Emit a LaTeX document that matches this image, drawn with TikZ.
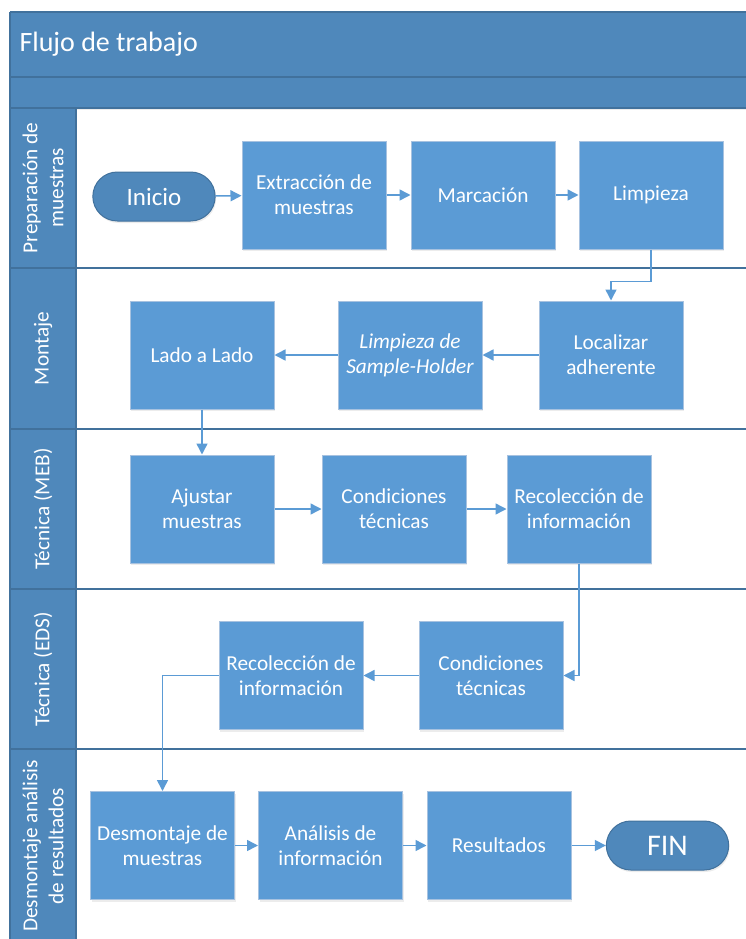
\documentclass[tikz,border=0pt]{standalone}
\usepackage{fontspec}
\setmainfont{Carlito}
\usetikzlibrary{arrows.meta,shapes.misc,shadows}

\definecolor{boxblue}{HTML}{5B9BD5}
\definecolor{boxedge}{HTML}{A7C2E0}
\definecolor{headblue}{HTML}{4F88BB}
\definecolor{lineblue}{HTML}{41719C}

\begin{document}
\begin{tikzpicture}
        [x=1pt, y=-1pt,
        box/.style={rectangle, draw=boxedge, fill=boxblue, line width=1pt, minimum width=144pt, minimum height=108pt,
            align=center, text=white, font=\fontsize{21.3}{25}\selectfont,
            drop shadow={opacity=0.15, shadow xshift=1pt, shadow yshift=-2pt}},
        italic/.style={font=\fontsize{21.3}{25}\selectfont\itshape},
        term/.style={rounded rectangle, draw=lineblue, fill=headblue, line width=1pt, minimum width=129pt, minimum height=49pt,
            text=white, drop shadow={opacity=0.15, shadow xshift=1pt, shadow yshift=-2pt}},
        lanehead/.style={rectangle, draw=lineblue, fill=headblue, line width=1.2pt, rotate=90, minimum height=66pt,
            align=center, text=white, font=\fontsize{21.3}{26}\selectfont},
        lane/.style={draw=lineblue, line width=1.5pt},
        flow/.style={boxblue, line width=1.5pt, -{Triangle[length=11pt,width=11pt]}}]

        \useasboundingbox (0,0) rectangle (746,939);
        \clip (0,0) rectangle (746,939);

        % title bar
        \fill[headblue, drop shadow={opacity=0.15, shadow yshift=-2pt}] (10,12) rectangle (760,108);
        \draw[lane] (10,12) -- (760,12);
        \draw[lane] (10,77) -- (760,77);
        \draw[lane] (10,12) -- (10,108);
        \node[anchor=west, text=white, font=\fontsize{28}{34}\selectfont] (title) at (16,44) {Flujo de trabajo};

        % lanes
        \draw[lane] (10,108) rectangle (760,268);
        \draw[lane] (10,268) rectangle (760,429);
        \draw[lane] (10,429) rectangle (760,589);
        \draw[lane] (10,589) rectangle (760,749);
        \draw[lane] (10,749) rectangle (760,960);

        % lane headers
        \node[lanehead, minimum width=160pt] (h1) at (43,188) {Preparación de\\muestras};
        \node[lanehead, minimum width=161pt] (h2) at (43,348.5) {Montaje};
        \node[lanehead, minimum width=160pt] (h3) at (43,509) {Técnica (MEB)};
        \node[lanehead, minimum width=160pt] (h4) at (43,669) {Técnica (EDS)};
        \node[lanehead, minimum width=194pt] (h5) at (43,846) {Desmontaje análisis\\de resultados};

        % preparación
        \node[term, font=\fontsize{25}{30}\selectfont] (ini) at (154,196.5) {Inicio};
        \node[box] (ext) at (314,195) {Extracción de\\muestras};
        \node[box] (mar) at (483,195) {Marcación};
        \node[box] (lim) at (651,195) {Limpieza};

        % montaje
        \node[box] (loc) at (611,355) {Localizar\\adherente};
        \node[box, italic] (lsh) at (410,355) {Limpieza de\\Sample-Holder};
        \node[box] (lado) at (202,355) {Lado a Lado};

        % MEB
        \node[box] (aju) at (202,509) {Ajustar\\muestras};
        \node[box] (cmeb) at (394,509) {Condiciones\\técnicas};
        \node[box] (rmeb) at (579,509) {Recolección de\\información};

        % EDS
        \node[box] (ceds) at (491,675.5) {Condiciones\\técnicas};
        \node[box] (reds) at (291,675.5) {Recolección de\\información};

        % desmontaje
        \node[box] (des) at (162.5,845.5) {Desmontaje de\\muestras};
        \node[box] (ana) at (330.5,845.5) {Análisis de\\información};
        \node[box] (res) at (499,845.5) {Resultados};
        \node[term, font=\fontsize{30}{36}\selectfont] (fin) at (667.5,845.5) {FIN};

        % flow
        \draw[flow] (ini) -- (ext);
        \draw[flow] (ext) -- (mar);
        \draw[flow] (mar) -- (lim);
        \draw[flow] (lim.south) -- ++(0,32) -| (loc.north);
        \draw[flow] (loc) -- (lsh);
        \draw[flow] (lsh) -- (lado);
        \draw[flow] (lado) -- (aju);
        \draw[flow] (aju) -- (cmeb);
        \draw[flow] (cmeb) -- (rmeb);
        \draw[flow] (rmeb.south) |- (ceds.east);
        \draw[flow] (ceds) -- (reds);
        \draw[flow] (reds.west) -| (des.north);
        \draw[flow] (des) -- (ana);
        \draw[flow] (ana) -- (res);
        \draw[flow] (res) -- (fin);

    \end{tikzpicture}
\end{document}
